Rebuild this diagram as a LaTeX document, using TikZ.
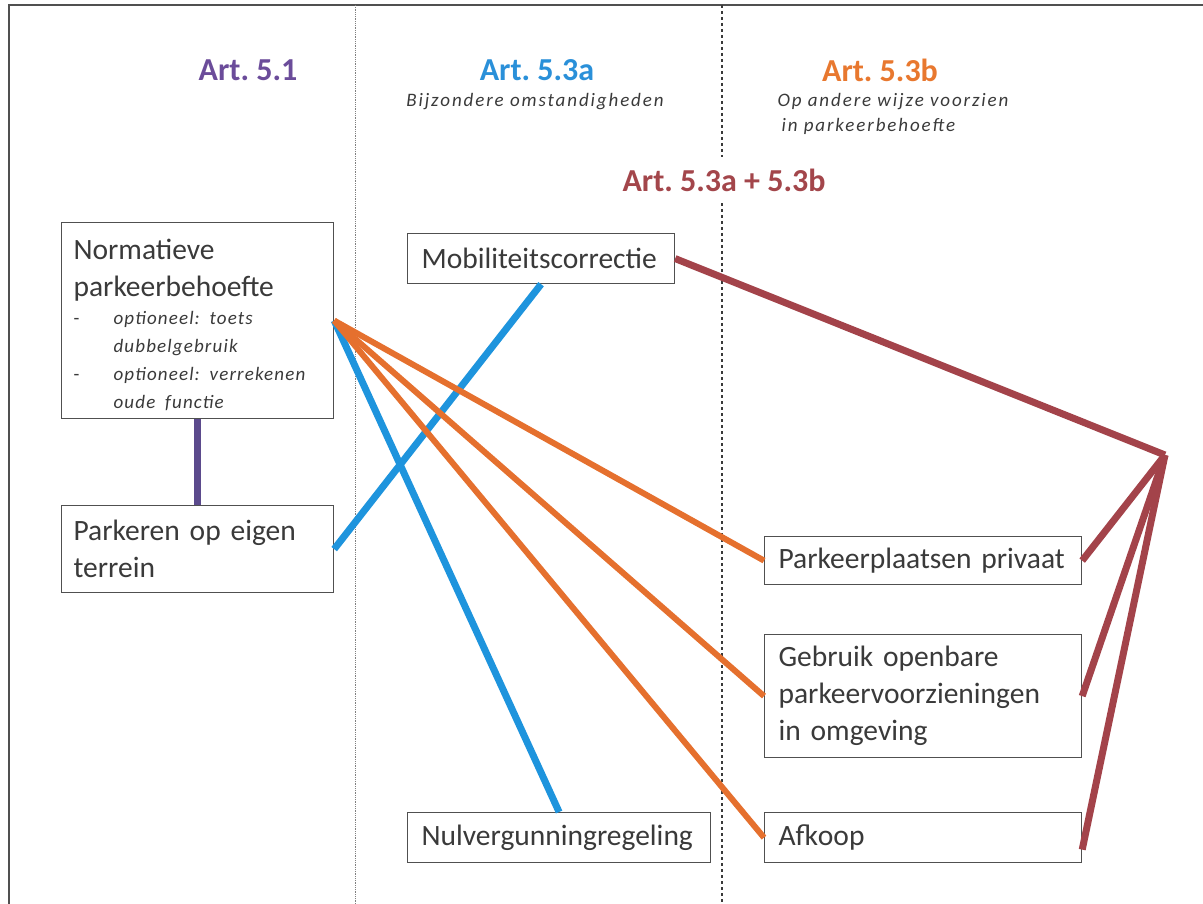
\documentclass[tikz,border=0pt]{standalone}
\usepackage{fontspec}
\setmainfont{Carlito}
\newfontfamily\spacedit[LetterSpace=10]{Carlito}
\newfontfamily\spacednote[LetterSpace=6]{Carlito}
\frenchspacing
\usetikzlibrary{positioning,calc}

\definecolor{artpurple}{HTML}{6B4C9A}
\definecolor{artblue}{HTML}{2A90D9}
\definecolor{artorange}{HTML}{E8782F}
\definecolor{artred}{HTML}{A3464B}
\definecolor{linepurple}{HTML}{5B4A8C}
\definecolor{lineblue}{HTML}{1E94DD}
\definecolor{lineorange}{HTML}{E5702E}
\definecolor{linered}{HTML}{A3434A}
\definecolor{boxgray}{HTML}{505050}
\definecolor{txtgray}{HTML}{3A3A3A}

\begin{document}
\begin{tikzpicture}[x=1pt,y=-1pt,
	box/.style={draw=boxgray, line width=1.2pt, fill=white, anchor=north west, inner xsep=14pt, inner ysep=0pt, align=left, text=txtgray, font=\fontsize{29.5}{37}\selectfont},
	kop/.style={font=\fontsize{32}{36}\selectfont\bfseries},
	sub/.style={font=\fontsize{19}{25}\selectfont\spacedit\itshape, text=txtgray, align=left},
	link/.style={line width=7pt}]
	\useasboundingbox (0,0) rectangle (1203,904);

	% frame and column dividers
	\draw[boxgray, line width=1.5pt] (9,904) -- (9,5) -- (1203,5);
	\draw[gray, line width=0.8pt, densely dotted] (355,5) -- (355,904);
	\draw[txtgray, line width=1.5pt, dashed] (722,5) -- (722,904);

	% column headers
	\node[kop, text=artpurple] (h1) at (248,70) {Art. 5.1};
	\node[kop, text=artblue] (h2) at (537,70) {Art. 5.3a};
	\node[sub] (s2) at (535,102) {Bijzondere omstandigheden};
	\node[kop, text=artorange] (h3) at (880,70) {Art. 5.3b};
	\node[sub, anchor=west] (s3) at (774,114) {Op andere wijze voorzien\\\hspace*{4pt}in parkeerbehoefte};
	\node[kop, text=artred, fill=white, inner ysep=12pt] (h4) at (724,180) {Art. 5.3a + 5.3b};

	% boxes
	\node[box, inner xsep=12pt, text width=248pt, minimum height=196pt] (norm) at (61,222) {\rule{0pt}{36pt}Normatieve\\parkeerbehoefte\\[-9pt]
		{\fontsize{19}{28}\selectfont\spacednote\itshape
		\begin{tabular}[t]{@{}p{40pt}@{}l@{}}
			\upshape- & optioneel: toets\\
			 & dubbelgebruik\\
			\upshape- & optioneel: verrekenen\\
			 & oude functie
		\end{tabular}}};
	\node[box, inner xsep=12pt, text width=248pt, minimum height=87pt] (eigen) at (61,505) {Parkeren op eigen\\terrein};
	\node[box, text width=239pt, minimum height=50pt] (mob) at (407,233) {Mobiliteitscorrectie};
	\node[box, text width=275pt, minimum height=50pt] (nul) at (407,812) {Nulvergunningregeling};
	\node[box, text width=289pt, minimum height=48pt] (priv) at (764,536) {Parkeerplaatsen privaat};
	\node[box, text width=289pt, minimum height=123pt] (openb) at (764,634) {Gebruik openbare\\parkeervoorzieningen\\in omgeving};
	\node[box, text width=289pt, minimum height=50pt] (afk) at (764,812) {Afkoop};

	% connectors
	\draw[link, linepurple] (norm.south) -- (eigen.north);
	\draw[link, lineblue] (eigen.east) -- (mob.south);
	\draw[link, lineblue] (norm.east) -- (nul.north);
	\draw[link, lineorange, line width=6pt] (norm.east) -- (priv.west);
	\draw[link, lineorange, line width=6pt] (norm.east) -- (openb.west);
	\draw[link, lineorange, line width=6pt] (norm.east) -- (afk.west);
	\coordinate (knik) at (1165,455);
	\draw[link, linered] (mob.east) -- (knik);
	\draw[link, linered] (knik) -- (priv.east);
	\draw[link, linered] (knik) -- (openb.east);
	\draw[link, linered] (knik) -- ([yshift=-12pt]afk.east);
\end{tikzpicture}
\end{document}
